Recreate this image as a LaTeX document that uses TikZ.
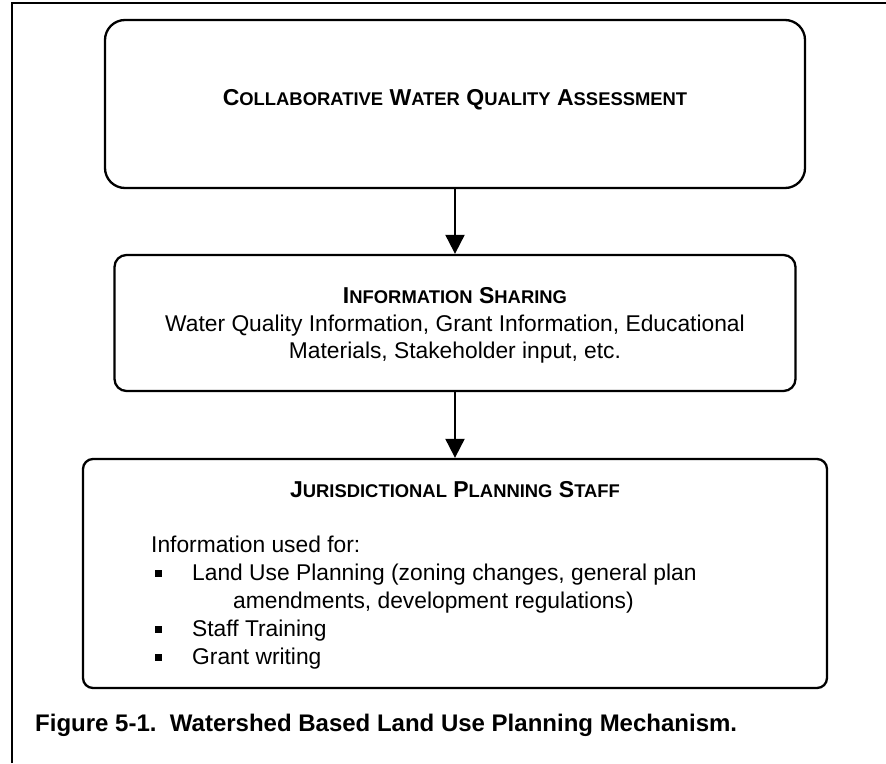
\documentclass[tikz,border=0pt]{standalone}
\usepackage{fontspec}
\setmainfont{Liberation Sans}
\usetikzlibrary{arrows.meta}
% Word-style small capitals: full-size initial, reduced capitals after it
\newcommand\capsc[2]{#1{\fontsize{18.4}{18.4}\selectfont #2}}

\begin{document}
\begin{tikzpicture}[x=1pt,y=-1pt,
  font=\fontsize{22.8}{27.5}\selectfont,
  stage/.style={draw, line width=2.3pt, inner sep=0pt, rounded corners=#1},
  flow/.style={line width=2pt, -{Triangle[width=19pt,length=19pt]}},
  heading/.style={anchor=base, font=\fontsize{23}{27.5}\selectfont\bfseries, inner sep=0pt},
  body/.style={anchor=base west, inner sep=0pt},
  bodyc/.style={anchor=base, inner sep=0pt},
  bulletbox/.style={fill, minimum size=7pt, inner sep=0pt},
  frameline/.style={line width=2pt}]

\useasboundingbox (0,0) rectangle (886,763);

% page frame (top and left rules)
\coordinate (fbl) at (12,763);
\coordinate (ftl) at (12,3);
\coordinate (ftr) at (886,3);
\draw[frameline] (fbl) -- (ftl) -- (ftr);

% stages
\node[stage=20pt, minimum width=700pt, minimum height=168pt] (assess) at (455,104) {};
\node[stage=12pt, minimum width=681pt, minimum height=136pt] (share) at (455,323) {};
\node[stage=10pt, minimum width=744pt, minimum height=229pt] (staff) at (455,573.5) {};

% connectors
\draw[flow] (assess.south) -- (share.north);
\draw[flow] (share.south) -- (staff.north);

% texts of the first stage
\node[heading] (t1) at (455,105) {\capsc{C}{OLLABORATIVE} \capsc{W}{ATER} \capsc{Q}{UALITY} \capsc{A}{SSESSMENT}};

% texts of the second stage
\node[heading] (t2) at (455,303) {\capsc{I}{NFORMATION} \capsc{S}{HARING}};
\node[bodyc] (t2a) at (455,331) {Water Quality Information, Grant Information, Educational};
\node[bodyc] (t2b) at (455,358) {Materials, Stakeholder input, etc.};

% texts of the third stage
\node[heading] (t3) at (455,497) {\capsc{J}{URISDICTIONAL} \capsc{P}{LANNING} \capsc{S}{TAFF}};
\node[body] (t3a) at (151,552) {Information used for:};
\node[bulletbox] (b1) at (158,573) {};
\node[body] (t3b) at (192,580) {Land Use Planning (zoning changes, general plan};
\node[body] (t3c) at (233,608) {amendments, development regulations)};
\node[bulletbox] (b2) at (158,629) {};
\node[body] (t3d) at (192,636) {Staff Training};
\node[bulletbox] (b3) at (158,657) {};
\node[body] (t3e) at (192,664) {Grant writing};

% caption
\node[body, font=\fontsize{24}{28}\selectfont\bfseries] (cap) at (35,731) {Figure 5-1.\ \ Watershed Based Land Use Planning Mechanism.};

\end{tikzpicture}
\end{document}
